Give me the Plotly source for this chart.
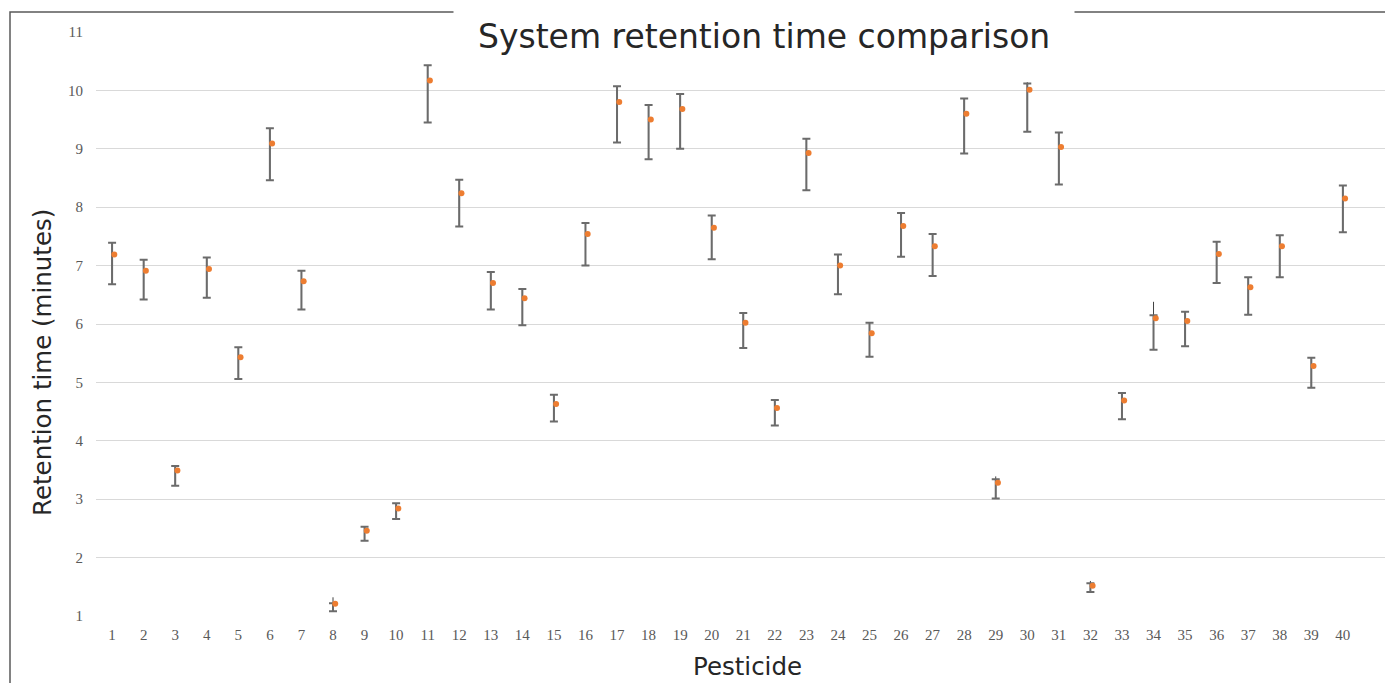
import plotly.graph_objects as go

pesticide = list(range(1, 41))

mean_rt = [7.19, 6.91, 3.49, 6.94, 5.43, 9.09, 6.73, 1.21, 2.46, 2.84,
           10.17, 8.24, 6.70, 6.44, 4.63, 7.54, 9.80, 9.50, 9.68, 7.65,
           6.02, 4.56, 8.93, 7.00, 5.84, 7.68, 7.33, 9.60, 3.28, 10.01,
           9.03, 1.52, 4.69, 6.10, 6.05, 7.20, 6.63, 7.33, 5.28, 8.15]

err_low = [6.68, 6.42, 3.23, 6.45, 5.06, 8.46, 6.25, 1.08, 2.29, 2.66,
           9.45, 7.67, 6.25, 5.98, 4.33, 7.00, 9.11, 8.82, 9.00, 7.11,
           5.59, 4.26, 8.29, 6.51, 5.44, 7.15, 6.82, 8.92, 3.01, 9.29,
           8.39, 1.41, 4.37, 5.56, 5.62, 6.70, 6.16, 6.80, 4.91, 7.57]

err_high = [7.39, 7.10, 3.57, 7.14, 5.60, 9.35, 6.91, 1.22, 2.53, 2.93,
            10.43, 8.47, 6.89, 6.60, 4.79, 7.73, 10.07, 9.75, 9.94, 7.86,
            6.19, 4.70, 9.17, 7.19, 6.02, 7.90, 7.54, 9.86, 3.34, 10.12,
            9.28, 1.56, 4.82, 6.15, 6.21, 7.41, 6.80, 7.52, 5.42, 8.37]

max_rt = [7.39, 7.10, 3.57, 7.14, 5.60, 9.35, 6.91, 1.32, 2.53, 2.93,
          10.43, 8.47, 6.89, 6.60, 4.79, 7.73, 10.07, 9.75, 9.94, 7.86,
          6.19, 4.70, 9.17, 7.19, 6.02, 7.90, 7.54, 9.86, 3.39, 10.14,
          9.28, 1.60, 4.82, 6.38, 6.21, 7.41, 6.80, 7.52, 5.42, 8.37]

y_ticks = list(range(1, 12))

DOT_SHIFT = 0.07

# high-low thin lines
hl_x, hl_y = [], []
for p, lo, hi in zip(pesticide, err_low, max_rt):
    hl_x += [p, p, None]
    hl_y += [lo, hi, None]

fig = go.Figure()

fig.add_trace(go.Scatter(
    x=hl_x, y=hl_y, mode="lines",
    line=dict(color="#404040", width=1),
    hoverinfo="skip", showlegend=False,
))

fig.add_trace(go.Scatter(
    x=pesticide, y=err_high, mode="markers",
    marker=dict(color="rgba(0,0,0,0)", size=1),
    error_y=dict(
        type="data", symmetric=False,
        array=[0] * len(pesticide),
        arrayminus=[h - l for h, l in zip(err_high, err_low)],
        color="#6b6b6b", thickness=2, width=4,
    ),
    hoverinfo="skip", showlegend=False,
))

fig.add_trace(go.Scatter(
    x=[p + DOT_SHIFT for p in pesticide], y=mean_rt, mode="markers",
    marker=dict(color="#ED7D31", size=6),
    name="Retention time", showlegend=False,
))

# layout geometry: page has an 8px body margin, so screen px = figure px + 8
OFF = 8
W, H = 1393 - OFF, 683 - OFF
L, R, T, B = 96 - OFF, 5, 32 - OFF, 683 - 616
pw, ph = W - L - R, H - T - B

def sx(px):
    """screen x pixel -> paper x"""
    return (px - OFF - L) / pw

def sy(py):
    """screen y pixel -> paper y"""
    return (H - B - (py - OFF)) / ph

fig.add_shape(type="rect", xref="paper", yref="paper",
              x0=sx(10), x1=sx(1391),
              y0=sy(700), y1=sy(12),
              line=dict(color="#595959", width=1.5), fillcolor="rgba(0,0,0,0)",
              layer="above")

fig.add_annotation(
    text="System retention time comparison",
    xref="paper", yref="paper",
    x=sx(764), y=sy(37),
    xanchor="center", yanchor="middle",
    showarrow=False, bgcolor="white", borderpad=24,
    font=dict(family="DejaVu Sans", size=33, color="#262626"),
)

fig.add_annotation(
    text="Retention time (minutes)",
    xref="paper", yref="paper",
    x=sx(42), y=sy(363),
    xanchor="center", yanchor="middle", textangle=-90,
    showarrow=False,
    font=dict(family="DejaVu Sans", size=24.5, color="#262626"),
)

fig.add_annotation(
    text="Pesticide",
    xref="paper", yref="paper",
    x=sx(747), y=sy(666),
    xanchor="center", yanchor="middle",
    showarrow=False,
    font=dict(family="DejaVu Sans", size=24.5, color="#262626"),
)

fig.update_layout(
    width=W, height=H,
    margin=dict(l=L, r=R, t=T, b=B),
    paper_bgcolor="white", plot_bgcolor="white",
    showlegend=False,
    xaxis=dict(
        range=[0.49, 41.43],
        tickmode="array", tickvals=pesticide, ticktext=[str(p) for p in pesticide],
        showgrid=False, zeroline=False, showline=False, ticks="",
        ticklabelstandoff=8,
        tickfont=dict(family="Liberation Serif", size=15, color="#595959"),
    ),
    yaxis=dict(
        range=[1, 11],
        tickmode="array", tickvals=y_ticks, ticktext=[str(v) for v in y_ticks],
        showgrid=True, gridcolor="#D9D9D9", gridwidth=1,
        zeroline=False, showline=False, ticks="",
        ticklabelstandoff=12,
        tickfont=dict(family="Liberation Serif", size=15, color="#595959"),
    ),
)

fig.write_html("out.html")
